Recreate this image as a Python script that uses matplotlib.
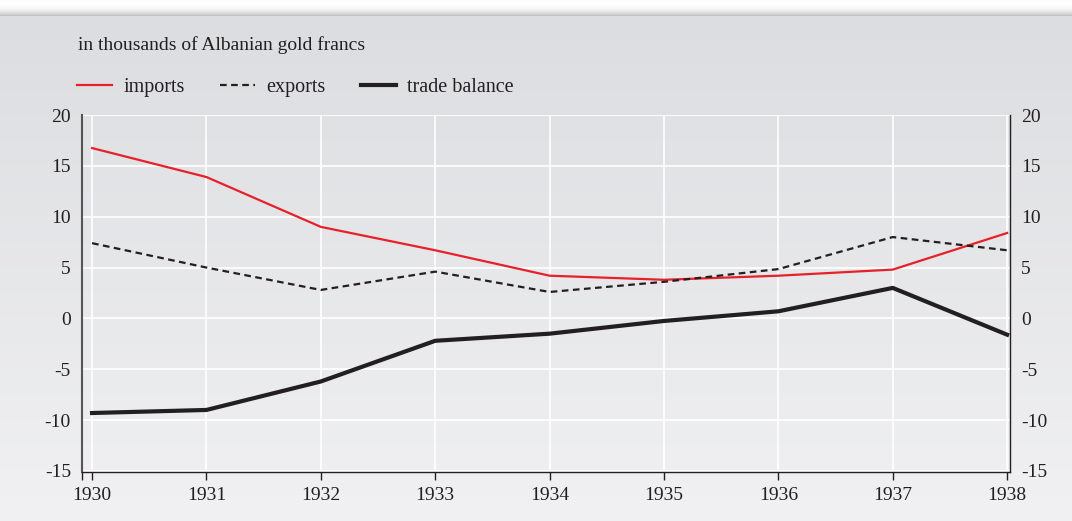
import numpy as np
import matplotlib
matplotlib.use("Agg")
import matplotlib.pyplot as plt

# data
years = [1930, 1931, 1932, 1933, 1934, 1935, 1936, 1937, 1938]
imports = [16.75, 13.9, 9.0, 6.7, 4.2, 3.8, 4.2, 4.8, 8.4]
exports = [7.4, 5.0, 2.8, 4.6, 2.6, 3.6, 4.85, 8.0, 6.7]
trade_balance = [-9.3, -9.0, -6.2, -2.2, -1.5, -0.25, 0.7, 3.0, -1.6]
y_ticks = [-15, -10, -5, 0, 5, 10, 15, 20]

plt.rcParams['font.family'] = ['Liberation Serif', 'DejaVu Serif']
plt.rcParams['axes.unicode_minus'] = False

fig = plt.figure(figsize=(10.72, 5.21), dpi=100)
fig.patch.set_facecolor('white')

# background panel with vertical gradient
bg = fig.add_axes([0, 0, 1, 1 - 16 / 521], zorder=-10)
grad = np.linspace(0, 1, 256).reshape(-1, 1)
top = np.array([0.863, 0.867, 0.878])
bot = np.array([0.945, 0.945, 0.953])
img = top + (bot - top) * grad[:, :, None]
bg.imshow(img, aspect='auto', extent=[0, 1, 0, 1], origin='upper')
bg.axis('off')

# shadow strip at the top
sh = fig.add_axes([0, 1 - 16 / 521, 1, 16 / 521], zorder=-9)
sgrad = np.linspace(0, 1, 64).reshape(-1, 1)
simg = 1 - 0.25 * sgrad[:, :, None] ** 3 * np.ones(3)
sh.imshow(simg, aspect='auto', extent=[0, 1, 0, 1], origin='upper')
sh.axis('off')

ax = fig.add_axes([82 / 1072, 1 - 472 / 521, (1010 - 82) / 1072, (472 - 115) / 521])
ax.set_facecolor('none')

ax.plot(years, imports, color='#e8202a', lw=1.6, label='imports', zorder=3)
ax.plot(years, exports, color='#231f20', lw=1.6, ls=(0, (3, 2)), label='exports', zorder=3)
ax.plot(years, trade_balance, color='#231f20', lw=3.0, label='trade balance', zorder=4)

x_lo, x_hi = 1929.912, 1938.025
ax.set_xlim(x_lo, x_hi)
ax.set_ylim(-15.1, 20)
ax.set_xticks(years)
ax.set_xticks([x_lo], minor=True)
ax.set_yticks(y_ticks)
ax.grid(True, which='major', color='white', lw=1.2)
ax.set_axisbelow(True)

ax.spines['top'].set_visible(False)
ax.spines['left'].set_color('#555555')
ax.spines['left'].set_linewidth(1.5)
ax.spines['right'].set_color('#231f20')
ax.spines['right'].set_linewidth(1.0)
ax.spines['bottom'].set_color('#231f20')
ax.spines['bottom'].set_linewidth(1.0)

ax.tick_params(axis='x', which='both', direction='out', length=6, width=1.0, color='#231f20',
               labelsize=14, labelcolor='#231f20', pad=5)
ax.tick_params(axis='y', length=0, labelsize=14, labelcolor='#231f20',
               left=True, right=True, labelleft=True, labelright=True, pad=8)

ax.text(-0.0043, 1.196, 'in thousands of Albanian gold francs', transform=ax.transAxes,
        fontsize=14, color='#231f20', va='center', ha='left')

ax.legend(loc='center left', bbox_to_anchor=(-0.0054, 1.078), ncol=3, frameon=False,
          fontsize=14.5, handlelength=1.75, columnspacing=1.75, handletextpad=0.55,
          borderpad=0, borderaxespad=0, labelcolor='#231f20')

fig.savefig('out.png', dpi=100, facecolor=fig.get_facecolor())
